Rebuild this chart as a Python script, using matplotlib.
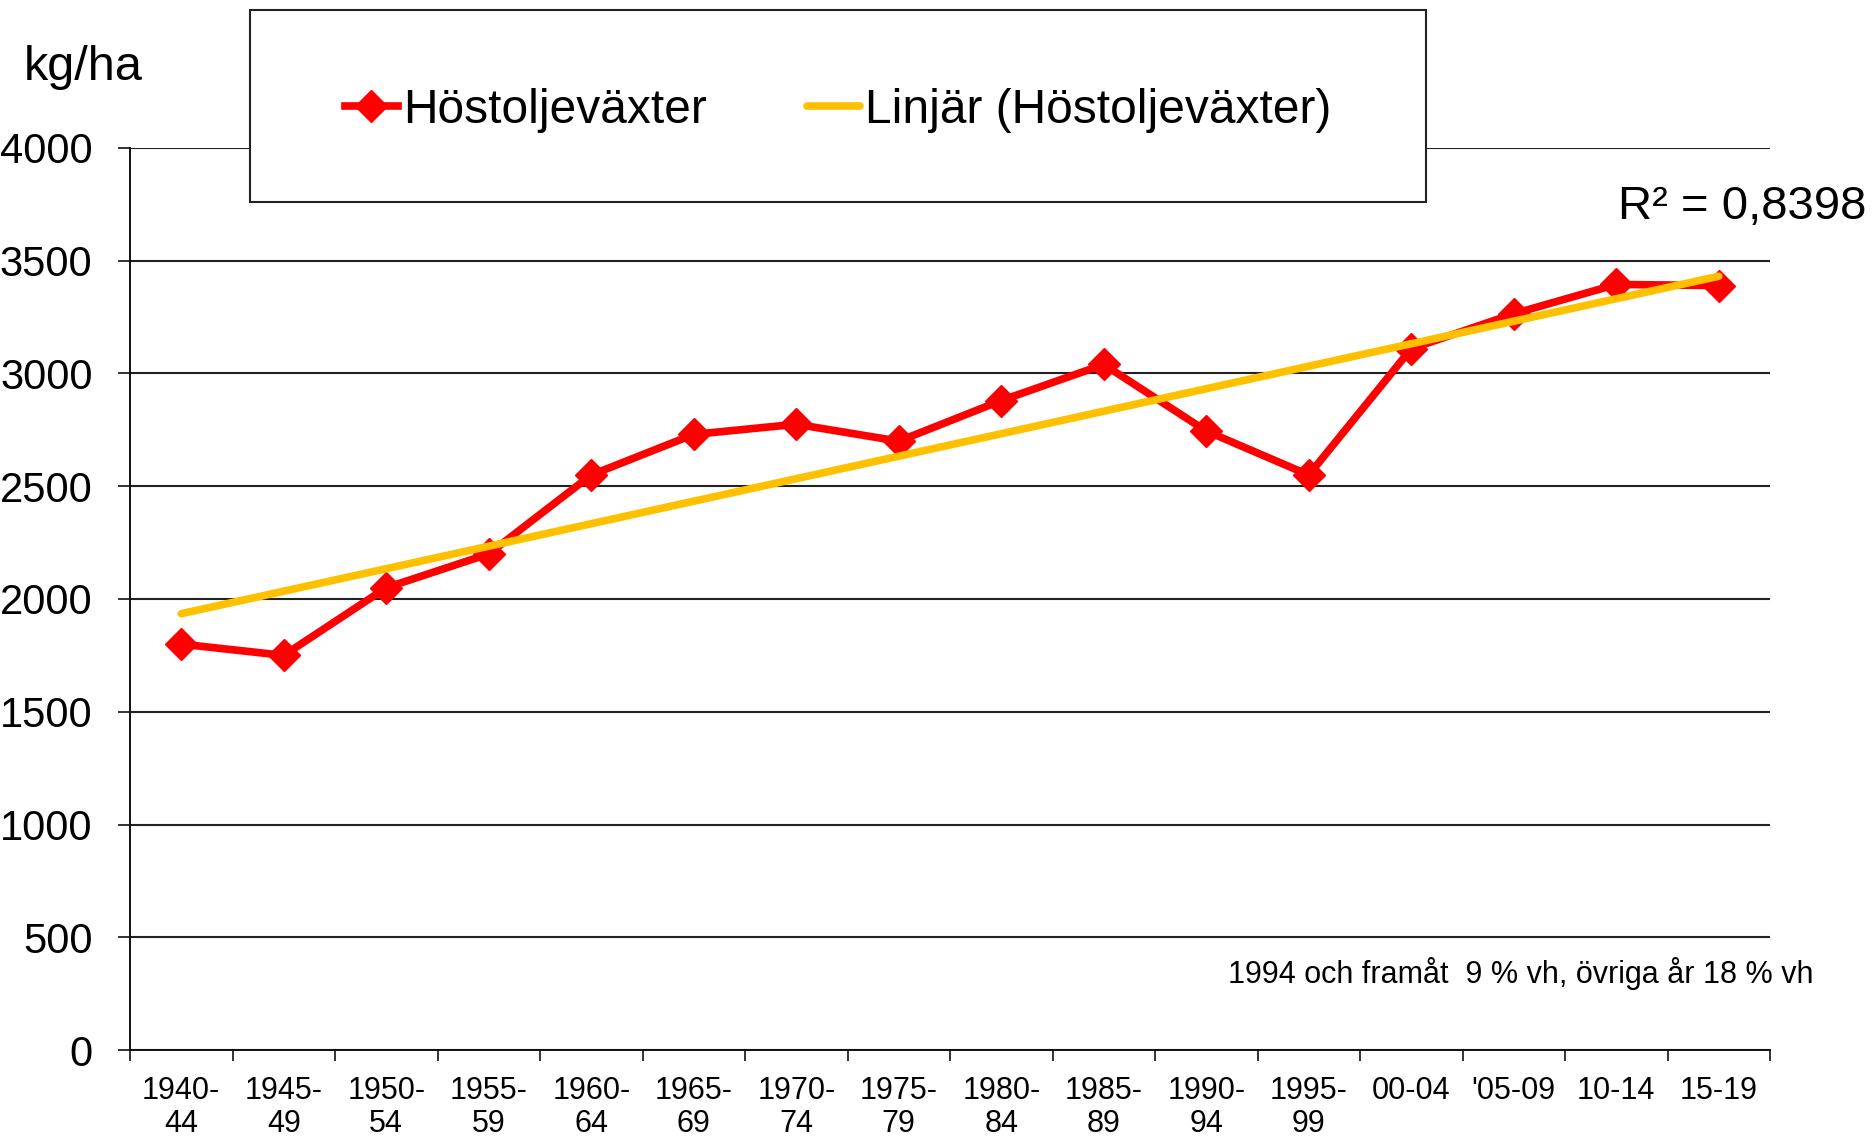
import numpy as np
import matplotlib.pyplot as plt
from matplotlib.patches import Rectangle

plt.rcParams['font.family'] = ['Liberation Sans', 'DejaVu Sans']

# Data (kg/ha, höstoljeväxter, 5-year averages)
periods = ["1940-\n44", "1945-\n49", "1950-\n54", "1955-\n59", "1960-\n64",
           "1965-\n69", "1970-\n74", "1975-\n79", "1980-\n84", "1985-\n89",
           "1990-\n94", "1995-\n99", "00-04", "'05-09", "10-14", "15-19"]
yields = [1800, 1750, 2050, 2200, 2550, 2730, 2775, 2700,
          2880, 3040, 2745, 2550, 3110, 3265, 3395, 3390]
yticks = [0, 500, 1000, 1500, 2000, 2500, 3000, 3500, 4000]

RED = '#FF0000'
GOLD = '#FFC000'
W, H = 1876, 1138

fig = plt.figure(figsize=(W / 100, H / 100), dpi=100)
ax = fig.add_axes([130 / W, 1 - 1050 / H, 1640 / W, 902 / H])

x = np.arange(len(yields))
line, = ax.plot(x, yields, color=RED, lw=5.5, marker='D', ms=16,
                label='Höstoljeväxter', zorder=3)

# linear trend (Excel "Linjär")
k, m = np.polyfit(x, yields, 1)
trend, = ax.plot(x, k * x + m, color=GOLD, lw=5.5, solid_capstyle='round',
                 label='Linjär (Höstoljeväxter)', zorder=4)

ax.set_xlim(-0.5, len(yields) - 0.5)
ax.set_ylim(0, 4000)
ax.set_yticks(yticks)
ax.set_yticklabels([str(v) for v in yticks], fontsize=30)
ax.tick_params(axis='y', length=9, width=1.2, pad=18, color='#111111')

ax.set_xticks(x)
ax.set_xticklabels(periods, fontsize=22, linespacing=1.1)
ax.set_xticks(np.arange(len(yields) + 1) - 0.5, minor=True)
ax.tick_params(axis='x', which='major', length=0, pad=19)
ax.tick_params(axis='x', which='minor', length=8, width=1.2, color='#111111')

ax.grid(axis='y', color='#222222', lw=1.5)
ax.set_axisbelow(True)
for s in ['top', 'right']:
    ax.spines[s].set_visible(False)
for s in ['left', 'bottom']:
    ax.spines[s].set_color('#111111')
    ax.spines[s].set_linewidth(1.4)

# legend box
bx, by, bw, bh = 250 / W, 1 - 202 / H, 1176 / W, 192 / H
fig.patches.append(Rectangle((bx, by), bw, bh, transform=fig.transFigure,
                             facecolor='white', edgecolor='#222222', lw=1.5,
                             zorder=2))
fig.legend(handles=[line, trend], loc='center',
           bbox_to_anchor=(bx + bw / 2, by + bh / 2 - 0.004),
           ncol=2, frameon=False, fontsize=34.5, handlelength=1.1,
           handletextpad=0.1, columnspacing=2.1)

fig.text(24 / W, 1 - 68 / H, 'kg/ha', fontsize=35, ha='left', va='center')
fig.text(1742 / W, 1 - 207 / H, 'R² = 0,8398', fontsize=34,
         ha='center', va='center')
fig.text(1521 / W, 1 - 973 / H, '1994 och framåt  9 % vh, övriga år 18 % vh',
         fontsize=22, ha='center', va='center')

fig.savefig('out.png', dpi=100, facecolor='white')
